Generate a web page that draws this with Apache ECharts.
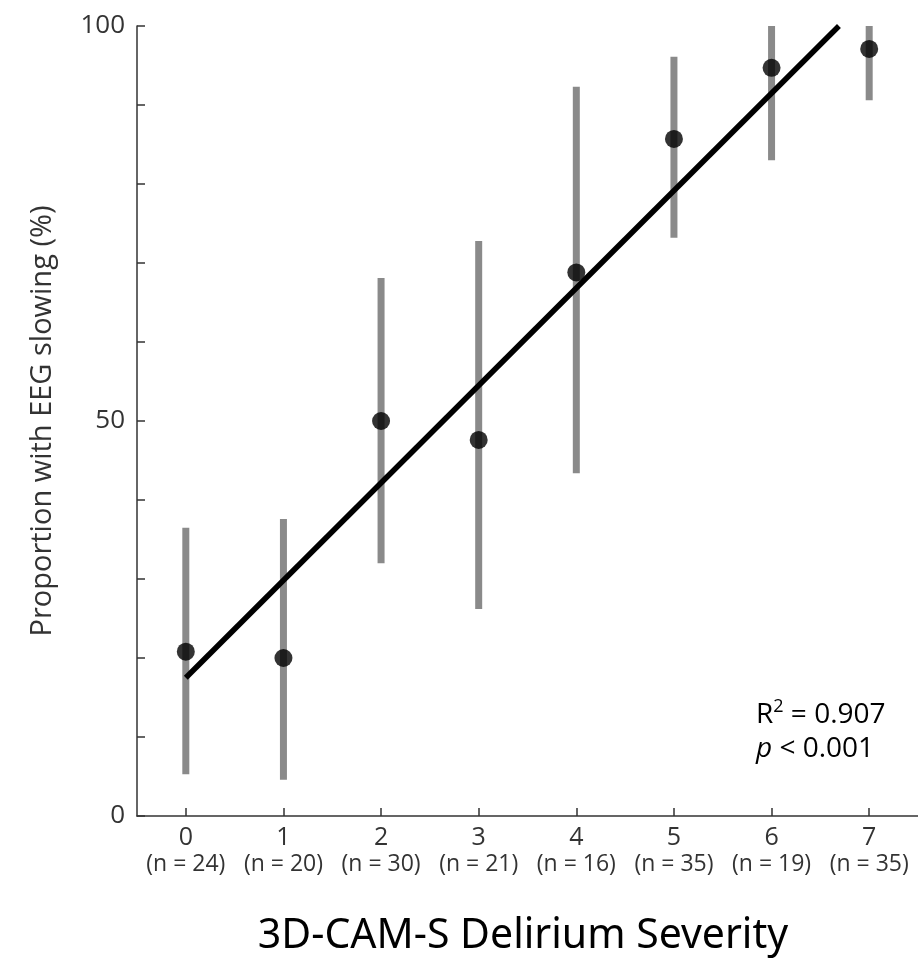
<!DOCTYPE html>
<html>
<head>
<meta charset="utf-8">
<script src="https://cdn.jsdelivr.net/npm/echarts@6/dist/echarts.min.js"></script>
</head>
<body style="margin:0;background:#fff;">
<div id="chart" style="width:918px;height:963px;"></div>
<script>
// severity categories and group sizes
const severity = [0, 1, 2, 3, 4, 5, 6, 7];
const groupN = [24, 20, 30, 21, 16, 35, 19, 35];
// proportion with EEG slowing (%)
const proportion = [20.8, 20.0, 50.0, 47.6, 68.8, 85.7, 94.7, 97.1];
const ciLow = [5.3, 4.6, 32.0, 26.2, 43.4, 73.2, 83.0, 90.6];
const ciHigh = [36.5, 37.6, 68.1, 72.8, 92.3, 96.1, 100, 100];
// fitted regression line end points
const fitX = [0, 6.69];
const fitY = [17.5, 100];
const yTicks = [0, 50, 100];

const chart = echarts.init(document.getElementById('chart'));
const font = 'Open Sans';
const axisColor = '#333';

chart.setOption({
  backgroundColor: '#fff',
  animation: false,
  grid: { left: 137, right: -5.5, top: 26, bottom: 147 },
  xAxis: {
    type: 'value',
    min: -0.5,
    max: 7.5,
    interval: 1,
    splitLine: { show: false },
    axisLine: { onZero: false, lineStyle: { color: axisColor, width: 1.5 } },
    axisTick: { inside: true, length: 8, lineStyle: { color: axisColor, width: 1.5 },
      customValues: severity },
    axisLabel: {
      customValues: severity,
      margin: 8,
      formatter: (v) => `{a|${v}}\n{b|(n = ${groupN[severity.indexOf(v)]})}`,
      rich: {
        a: { fontFamily: font, fontSize: 25, color: axisColor, lineHeight: 27 },
        b: { fontFamily: font, fontSize: 23, color: axisColor, lineHeight: 27 }
      }
    }
  },
  yAxis: {
    type: 'value',
    min: 0,
    max: 100,
    interval: 10,
    name: 'Proportion with EEG slowing (%)',
    nameLocation: 'middle',
    nameGap: 80,
    nameTextStyle: { fontFamily: font, fontSize: 29, color: axisColor },
    splitLine: { show: false },
    axisLine: { show: true, onZero: false, lineStyle: { color: axisColor, width: 1.5 } },
    axisTick: { inside: true, length: 8, lineStyle: { color: axisColor, width: 1.5 } },
    axisLabel: {
      margin: 12,
      fontFamily: font, fontSize: 26, color: axisColor,
      formatter: (v) => (yTicks.includes(v) ? String(v) : '')
    }
  },
  series: [
    {
      type: 'custom',
      renderItem: (params, api) => {
        const top = api.coord([api.value(0), api.value(2)]);
        const bot = api.coord([api.value(0), api.value(1)]);
        return {
          type: 'line',
          shape: { x1: top[0], y1: top[1], x2: bot[0], y2: bot[1] },
          style: { stroke: '#8a8a8a', lineWidth: 7 }
        };
      },
      data: severity.map((x, i) => [x, ciLow[i], ciHigh[i]]),
      z: 1
    },
    {
      type: 'line',
      data: fitX.map((x, i) => [x, fitY[i]]),
      symbol: 'none',
      lineStyle: { color: '#000', width: 5.5, cap: 'butt' },
      z: 2
    },
    {
      type: 'scatter',
      data: severity.map((x, i) => [x, proportion[i]]),
      symbolSize: 18,
      itemStyle: { color: '#000' },
      z: 3
    }
  ],
  graphic: [
    {
      type: 'text', left: 756, top: 698,
      style: {
        text: '{r|R}{s|2}{r| = 0.907}\n{i|p}{r| < 0.001}',
        rich: {
          r: { fontFamily: font, fontSize: 28, color: axisColor, lineHeight: 34 },
          s: { fontFamily: font, fontSize: 18, color: axisColor, lineHeight: 34, verticalAlign: 'top', padding: [0, 0, 14, 0] },
          i: { fontFamily: font, fontSize: 28, color: axisColor, fontStyle: 'italic', lineHeight: 34 }
        }
      }
    },
    {
      type: 'text',
      style: {
        text: '3D-CAM-S Delirium Severity',
        x: 523, y: 936,
        align: 'center', verticalAlign: 'middle',
        fontFamily: 'Noto Sans', fontSize: 41, fill: '#000'
      }
    }
  ]
});
</script>
</body>
</html>
